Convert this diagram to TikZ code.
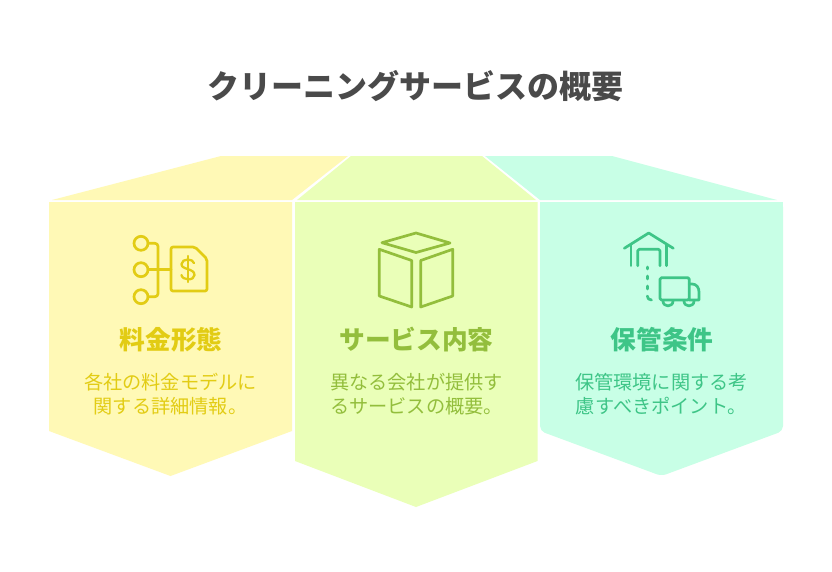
\documentclass[tikz,border=0pt]{standalone}
\usepackage{fontspec}
\setmainfont{Noto Sans CJK JP}
\definecolor{yfill}{HTML}{FFF9B6}
\definecolor{gfill}{HTML}{EAFFB8}
\definecolor{mfill}{HTML}{C8FFE6}
\definecolor{ystroke}{HTML}{E2CC14}
\definecolor{gstroke}{HTML}{93BE3C}
\definecolor{mstroke}{HTML}{3EC587}
\definecolor{titlecol}{HTML}{4A4A4A}
\tikzset{
  titletext/.style={font=\fontsize{32}{38}\selectfont\bfseries,text=titlecol,inner sep=0pt},
  headtext/.style={font=\fontsize{25.7}{30}\selectfont\bfseries,inner sep=0pt},
  bodytext/.style={font=\fontsize{19.2}{24}\selectfont,align=center,inner sep=0pt},
  icon/.style={line width=2.7pt,line cap=round,line join=round},
}
\begin{document}
\begin{tikzpicture}[x=1pt,y=-1pt]
\useasboundingbox (0,0) rectangle (832,571);
\fill[white] (0,0) rectangle (832,571);
% top faces
\fill[yfill] (52,200) -- (221,156) -- (348,156) -- (292,200) -- cycle;
\fill[gfill] (297,200) -- (351,156) -- (482,156) -- (536,200) -- cycle;
\fill[mfill] (485,156) -- (612,156) -- (777,200) -- (540,200) -- cycle;
% bodies
\fill[yfill] (49,202) -- (292,202) -- (292,431) -- (170.5,476) -- (49,431) -- cycle;
\fill[gfill] (295,202) -- (537.5,202) -- (537.5,461) -- (416,507) -- (295,461) -- cycle;
\fill[mfill,rounded corners=5pt] (540,202) -- (783,202) -- (783,431) -- (661.5,476) -- (540,431) -- cycle;
\fill[mfill] (540,202) rectangle (783,215);
% yellow icon
\begin{scope}[icon,draw=ystroke]
\draw (141,243.3) circle (7);
\draw (141,269.7) circle (7);
\draw (141,296.7) circle (7);
\draw[rounded corners=3pt] (148,243.3) -- (158,243.3) -- (158,296.7) -- (148,296.7);
\draw (148,269.7) -- (171,269.7);
\draw[rounded corners=2pt] (171,247) -- (195,247) -- (207,259) -- (207,291) -- (171,291) -- cycle;
\draw[line width=2.3pt] (187.8,256) -- (187.8,282);
\draw[line width=2.3pt] (194,263) .. controls (193,258.5) and (182,258) .. (181.5,264) .. controls (181.2,270) and (194.5,268) .. (194.5,275) .. controls (194.5,281) and (182,280.5) .. (181.5,275);
\end{scope}
% green icon
\begin{scope}[icon,draw=gstroke]
\draw (382,242.7) -- (416,233) -- (450,243) -- (416,252.5) -- cycle;
\draw (379.3,249.3) -- (411.7,260.5) -- (411.7,307) -- (379.3,296) -- cycle;
\draw (420.7,260.5) -- (452.7,249.3) -- (452.7,296) -- (420.7,307) -- cycle;
\end{scope}
% mint icon
\begin{scope}[icon,draw=mstroke]
\draw (624.3,248.3) -- (648.7,233) -- (673.3,248.3);
\draw (631,244.5) -- (631,265.7);
\draw (666.7,244.5) -- (666.7,265.7);
\draw[rounded corners=1.5pt] (637.7,265.7) -- (637.7,249.3) -- (660,249.3) -- (660,265.7);
\draw (647.3,267) -- (647.3,269);
\draw (647.3,276) -- (647.3,279);
\draw (647.3,286) -- (647.3,289);
\draw (647.3,296) .. controls (647.3,298.5) and (649,300) .. (651.5,300);
\draw[rounded corners=1.5pt] (660,277.7) -- (689.3,277.7) -- (689.3,300) -- (660,300) -- cycle;
\draw (689.3,284) -- (692,284) .. controls (696.5,284) and (699,287.5) .. (699,292) -- (699,300) -- (689.3,300);
\draw (663,301) .. controls (663,307.5) and (673,307.5) .. (673,301);
\draw (684,301) .. controls (684,307.5) and (694,307.5) .. (694,301);
\end{scope}
% texts
\node[titletext] (title) at (415.5,86) {クリーニングサービスの概要};
\node[headtext,text=ystroke] (h1) at (171,339.5) {料金形態};
\node[headtext,text=gstroke] (h2) at (416.5,339.5) {サービス内容};
\node[headtext,text=mstroke] (h3) at (662,339.5) {保管条件};
\node[bodytext,text=ystroke] (b1) at (170.5,394) {各社の料金モデルに\\関する詳細情報。};
\node[bodytext,text=gstroke] (b2) at (416.5,394) {異なる会社が提供す\\るサービスの概要。};
\node[bodytext,text=mstroke] (b3) at (661.5,394) {保管環境に関する考\\慮すべきポイント。};
\end{tikzpicture}
\end{document}
